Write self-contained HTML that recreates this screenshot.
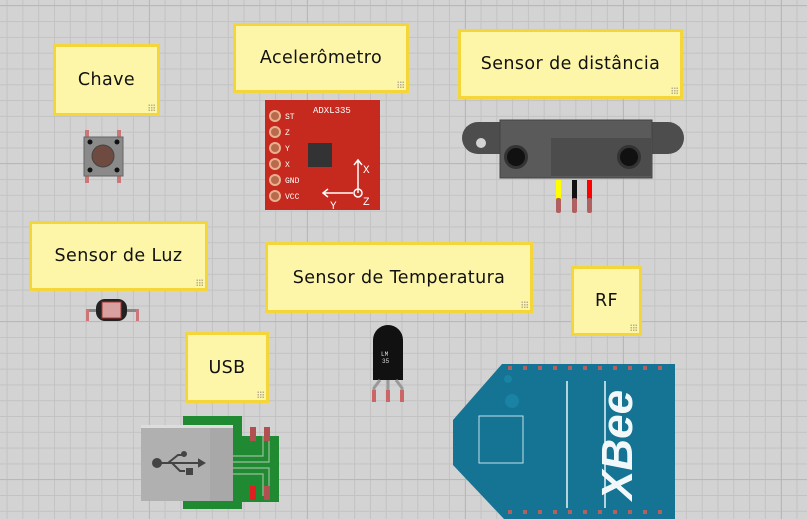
<!DOCTYPE html>
<html><head><meta charset="utf-8"><style>
html,body{margin:0;padding:0}
body{width:807px;height:519px;overflow:hidden;position:relative;background-color:#d3d3d3;
background-image:linear-gradient(to right,#b8b8b8 1px,transparent 1px),linear-gradient(to bottom,#b8b8b8 1px,transparent 1px),linear-gradient(to right,#c3c3c3 1px,transparent 1px),linear-gradient(to bottom,#c3c3c3 1px,transparent 1px);
background-size:158px 158px,158px 158px,15.8px 15.8px,15.8px 15.8px;background-position:149px 5px,149px 5px,6.6px 5.3px,6.6px 5.3px;font-family:"DejaVu Sans","Liberation Sans",sans-serif}
.n{position:absolute;box-sizing:border-box;background:#fdf6a8;border:3px solid #f5d63a;display:flex;align-items:center;justify-content:center;font-size:17.5px;letter-spacing:0.4px;color:#111}
.n:after{content:"";position:absolute;right:2px;bottom:2px;width:7px;height:7px;background:radial-gradient(circle,#b8b08a 0.7px,transparent 1px);background-size:2.5px 2.5px}
svg{position:absolute;left:0;top:0}
</style></head><body>
<div class="n" style="left:53px;top:44px;width:107px;height:72px">Chave</div>
<div class="n" style="left:233px;top:23px;width:176px;height:70px">Acelerômetro</div>
<div class="n" style="left:458px;top:29px;width:225px;height:70px">Sensor de distância</div>
<div class="n" style="left:29px;top:221px;width:179px;height:70px">Sensor de Luz</div>
<div class="n" style="left:265px;top:242px;width:268px;height:71px">Sensor de Temperatura</div>
<div class="n" style="left:571px;top:266px;width:71px;height:70px">RF</div>
<div class="n" style="left:185px;top:332px;width:84px;height:71px">USB</div>
<svg width="807" height="519" font-family="Liberation Mono,monospace">
<!-- switch -->
<rect x="85" y="130" width="4" height="8" fill="#c77"/><rect x="117" y="130" width="4" height="8" fill="#c77"/>
<rect x="85" y="175" width="4" height="8" fill="#c77"/><rect x="117" y="175" width="4" height="8" fill="#c77"/>
<rect x="84" y="137" width="39" height="39" fill="#8a8a8a" stroke="#666"/>
<circle cx="103" cy="156" r="11" fill="#6e4a40" stroke="#444"/>
<circle cx="90" cy="142" r="2.5" fill="#111"/><circle cx="117" cy="142" r="2.5" fill="#111"/>
<circle cx="90" cy="170" r="2.5" fill="#111"/><circle cx="117" cy="170" r="2.5" fill="#111"/>
<!-- accelerometer -->
<rect x="265" y="100" width="115" height="110" fill="#c62a1f"/>
<g fill="#b86a4a" stroke="#e8b090" stroke-width="2">
<circle cx="275" cy="116" r="5"/><circle cx="275" cy="132" r="5"/><circle cx="275" cy="148" r="5"/><circle cx="275" cy="164" r="5"/><circle cx="275" cy="180" r="5"/><circle cx="275" cy="196" r="5"/></g>
<g fill="#fff" font-size="8"><text x="285" y="119">ST</text><text x="285" y="135">Z</text><text x="285" y="151">Y</text><text x="285" y="167">X</text><text x="285" y="183">GND</text><text x="285" y="199">VCC</text><text x="313" y="113" font-size="9">ADXL335</text>
<text x="363" y="173" font-size="11">X</text><text x="363" y="205" font-size="11">Z</text><text x="330" y="209" font-size="11">Y</text></g>
<rect x="308" y="143" width="24" height="24" fill="#333"/>
<g stroke="#fff" stroke-width="1.5" fill="none"><path d="M358 193V160M354 165l4-5 4 5M353 193h-30M328 189l-5 4 5 4"/><circle cx="358" cy="193" r="4"/></g>
<!-- distance sensor -->
<path d="M478 122h190a16 16 0 0 1 0 32h-190a16 16 0 0 1 0-32z" fill="#4d4d4d"/>
<circle cx="481" cy="143" r="5" fill="#d3d3d3"/>
<rect x="500" y="120" width="152" height="58" fill="#5a5a5a" stroke="#444"/>
<rect x="551" y="138" width="100" height="38" fill="#4c4c4c"/>
<circle cx="516" cy="157" r="12" fill="#333"/><circle cx="516" cy="157" r="9" fill="#111"/>
<circle cx="629" cy="157" r="12" fill="#333"/><circle cx="629" cy="157" r="9" fill="#111"/>
<rect x="556" y="180" width="5" height="20" fill="#ff0"/><rect x="572" y="180" width="5" height="20" fill="#111"/><rect x="587" y="180" width="5" height="20" fill="#f00"/>
<rect x="556" y="198" width="5" height="15" rx="2" fill="#b06060"/><rect x="572" y="198" width="5" height="15" rx="2" fill="#b06060"/><rect x="587" y="198" width="5" height="15" rx="2" fill="#b06060"/>
<!-- LDR -->
<rect x="86" y="309" width="52" height="3" fill="#888"/>
<rect x="86" y="309" width="3" height="12" fill="#c77"/><rect x="136" y="309" width="3" height="12" fill="#c77"/>
<rect x="96" y="299" width="31" height="22" rx="9" fill="#222"/>
<rect x="102" y="302" width="19" height="16" fill="#d9a0a0" stroke="#a33"/>
<!-- LM35 -->
<path d="M373 380v-40a15 15 0 0 1 30 0v40z" fill="#111"/>
<text x="381" y="356" font-size="6" fill="#ddd">LM</text><text x="382" y="363" font-size="6" fill="#ddd">35</text>
<path d="M380 380l-6 8v12M388 380v20M396 380l6 8v12" stroke="#999" stroke-width="3" fill="none"/>
<rect x="372" y="390" width="4" height="12" fill="#c66"/><rect x="386" y="390" width="4" height="12" fill="#c66"/><rect x="400" y="390" width="4" height="12" fill="#c66"/>
<!-- USB -->
<path d="M183 416h59v20h37v66h-37v7h-59z" fill="#1f8a32"/>
<g stroke="#9bbf9b" stroke-width="1.2" fill="none"><path d="M233 456h30v-20M233 462h36v-26M233 468h36v28M233 474h30v22"/></g>
<rect x="250" y="427" width="6" height="14" fill="#b05050"/><rect x="264" y="427" width="6" height="14" fill="#b05050"/>
<rect x="250" y="486" width="6" height="14" fill="#e02020"/><rect x="264" y="486" width="6" height="14" fill="#b05050"/>
<rect x="141" y="425" width="92" height="76" fill="#b0b0b0"/><rect x="141" y="425" width="92" height="3" fill="#ddd"/><rect x="210" y="428" width="23" height="73" fill="#a8a8a8"/>
<g stroke="#444" stroke-width="2" fill="#444"><circle cx="157" cy="463" r="4"/><path d="M161 463h38M168 463l10-8h5M172 463l8 8h5" fill="none"/><circle cx="184" cy="454" r="2"/><rect x="187" y="469" width="5" height="5"/><path d="M199 460l5 3-5 3z"/></g>
<!-- XBee -->
<path d="M502 364h173v155h-171l-51-54v-45z" fill="#157393"/>
<g fill="#b56060"><rect x="508" y="366" width="4" height="4"/><rect x="523" y="366" width="4" height="4"/><rect x="538" y="366" width="4" height="4"/><rect x="553" y="366" width="4" height="4"/><rect x="568" y="366" width="4" height="4"/><rect x="583" y="366" width="4" height="4"/><rect x="598" y="366" width="4" height="4"/><rect x="613" y="366" width="4" height="4"/><rect x="628" y="366" width="4" height="4"/><rect x="643" y="366" width="4" height="4"/><rect x="658" y="366" width="4" height="4"/><rect x="508" y="510" width="4" height="4"/><rect x="523" y="510" width="4" height="4"/><rect x="538" y="510" width="4" height="4"/><rect x="553" y="510" width="4" height="4"/><rect x="568" y="510" width="4" height="4"/><rect x="583" y="510" width="4" height="4"/><rect x="598" y="510" width="4" height="4"/><rect x="613" y="510" width="4" height="4"/><rect x="628" y="510" width="4" height="4"/><rect x="643" y="510" width="4" height="4"/><rect x="658" y="510" width="4" height="4"/></g>
<circle cx="512" cy="401" r="7" fill="#1a82a4"/><circle cx="508" cy="379" r="4" fill="#1a82a4"/>
<rect x="479" y="416" width="44" height="47" fill="none" stroke="#bfe3ee" stroke-width="1"/>
<path d="M567 381v127M605 381v127" stroke="#e6f4f8" stroke-width="1.5"/>
<text transform="translate(632,500) rotate(-90)" font-family="Liberation Sans,sans-serif" font-style="italic" font-weight="bold" font-size="44" fill="#f2f8fa">XBee</text>
</svg>
</body></html>
